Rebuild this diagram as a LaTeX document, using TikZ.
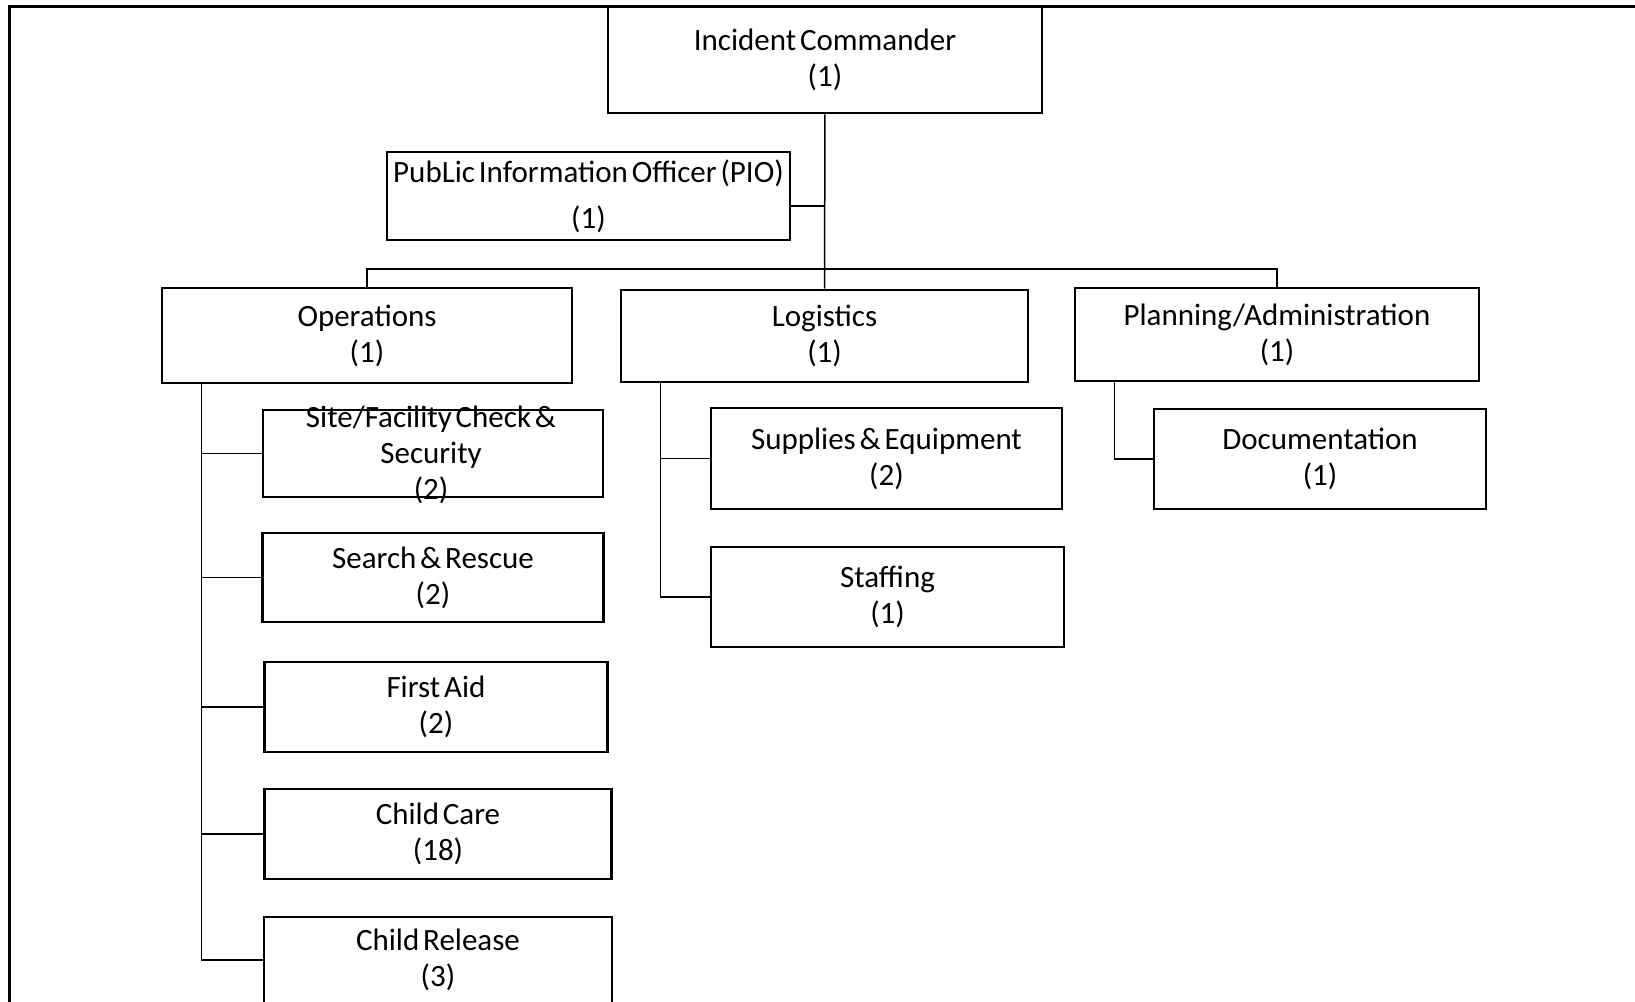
\documentclass[tikz,border=0pt]{standalone}
\usepackage{fontspec}
\setmainfont{Carlito}[WordSpace=0.55]
\usepackage{tikz}

\begin{document}
\begin{tikzpicture}[x=0.5pt, y=-0.5pt]
		\tikzstyle{box}=[rectangle, draw, line width=1.3pt, align=center, inner sep=0pt, font=\fontsize{15.5}{18}\selectfont]
		\tikzstyle{link}=[line width=0.75pt]
		\tikzstyle{every node}=[box]

		\clip (0,0) rectangle (1635,1002);
		\draw[line width=1.5pt] (9,1010) |- (1640,6);

		% top of the chart
		\node[minimum width=217pt, minimum height=53pt] (commander) at (825,60) {
			Incident Commander\\(1)
		};
		\node[minimum width=201.5pt, minimum height=44pt] (pio) at (588.5,196) {
			PubLic Information Officer (PIO)\\[5pt](1)
		};

		% sections
		\node[minimum width=205pt, minimum height=47.5pt] (ops) at (367,335.5) {
			Operations\\(1)
		};
		\node[minimum width=203.5pt, minimum height=46pt] (logistics) at (824.5,336) {
			Logistics\\(1)
		};
		\node[minimum width=202pt, minimum height=46.5pt] (planning) at (1277,334.5) {
			Planning/Administration\\(1)
		};

		% operations units
		\node[minimum width=170pt, minimum height=43.5pt] (site) at (433,453.5) {
			\smash{\raisebox{-5pt}{\begin{tabular}{@{}c@{}}Site/Facility Check \&\\Security\\(2)\end{tabular}}}
		};
		\node[minimum width=170.5pt, minimum height=44.5pt, below of=site, node distance=62pt] (rescue) {
			Search \& Rescue\\(2)
		};
		\node[minimum width=171.5pt, minimum height=45pt, below of=rescue, node distance=64.75pt, xshift=1.5pt] (aid) {
			First Aid\\(2)
		};
		\node[minimum width=173.5pt, minimum height=45pt, below of=aid, node distance=63.5pt, xshift=1pt] (care) {
			Child Care\\(18)
		};
		\node[minimum width=174pt, minimum height=43pt, below of=care, node distance=63pt] (release) {
			Child Release\\(3)
		};

		% logistics and planning units
		\node[minimum width=175.5pt, minimum height=50.5pt] (supplies) at (886.5,458.5) {
			Supplies \& Equipment\\(2)
		};
		\node[minimum width=176.5pt, minimum height=50pt, below of=supplies, node distance=69.25pt, xshift=0.5pt] (staffing) {
			Staffing\\(1)
		};
		\node[minimum width=166pt, minimum height=50pt] (documentation) at (1320,459) {
			Documentation\\(1)
		};

		\coordinate (bus) at (825,269);
		\coordinate (opsbar) at ([xshift=20.5pt]ops.south west);
		\coordinate (logbar) at ([xshift=20.5pt]logistics.south west);
		\coordinate (planbar) at ([xshift=20.5pt]planning.south west);

		\draw[link] (commander) -- (logistics);
		\draw[link] ([yshift=-5pt]pio.east) -- ([yshift=-5pt]pio.east -| commander.south);
		\draw[link] (ops.north) |- (bus) -| (planning.north);

		\draw[link] (opsbar) |- (release.west);
		\foreach \unit in {site, rescue, aid, care}
			\draw[link] (\unit.west) -- (\unit.west -| opsbar);

		\draw[link] (logbar) |- (staffing.west);
		\draw[link] (supplies.west) -- (supplies.west -| logbar);
		\draw[link] (planbar) |- (documentation.west);

	\end{tikzpicture}
\end{document}
